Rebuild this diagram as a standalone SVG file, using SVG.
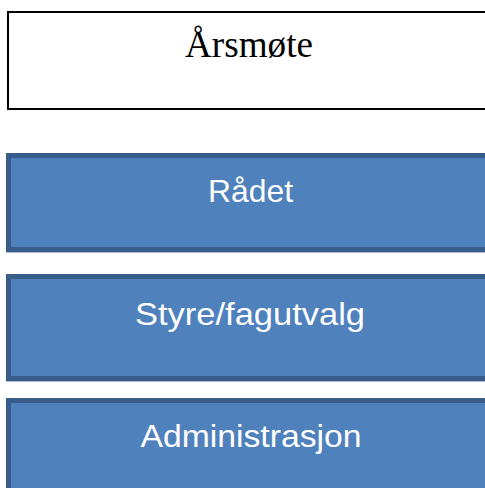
<svg xmlns="http://www.w3.org/2000/svg" width="485" height="488" viewBox="0 0 485 488">
<style>
.top{fill:#ffffff;stroke:#000000;stroke-width:2}
.blue{fill:#4f81bd;stroke:#385d8a;stroke-width:5}
.shadow{stroke:#a9bbd1;stroke-width:1}
.t1{font-family:"Liberation Serif","Times New Roman",serif;font-size:37px;fill:#000000;text-anchor:middle}
.t2{font-family:"Liberation Sans",Arial,sans-serif;font-size:32px;fill:#ffffff;text-anchor:middle}
</style>
<rect width="485" height="488" fill="#ffffff"/>
<g id="connectors"></g>
<g id="arsmote">
<rect class="top" x="8" y="12" width="500" height="97"/>
<text class="t1" x="249" y="56.5" textLength="128" lengthAdjust="spacingAndGlyphs">Årsmøte</text>
</g>
<g id="radet">
<line class="shadow" x1="6" y1="252.5" x2="485" y2="252.5"/>
<rect class="blue" x="8.5" y="155.5" width="500" height="94"/>
<text class="t2" x="250.5" y="202" textLength="85" lengthAdjust="spacingAndGlyphs">Rådet</text>
</g>
<g id="styre">
<line class="shadow" x1="6" y1="381.5" x2="485" y2="381.5"/>
<rect class="blue" x="8.5" y="276.5" width="500" height="102"/>
<text class="t2" x="250" y="325" textLength="230" lengthAdjust="spacingAndGlyphs">Styre/fagutvalg</text>
</g>
<g id="administrasjon">
<rect class="blue" x="8.5" y="400.5" width="500" height="100"/>
<text class="t2" x="251" y="446.5" textLength="221" lengthAdjust="spacingAndGlyphs">Administrasjon</text>
</g>
</svg>
